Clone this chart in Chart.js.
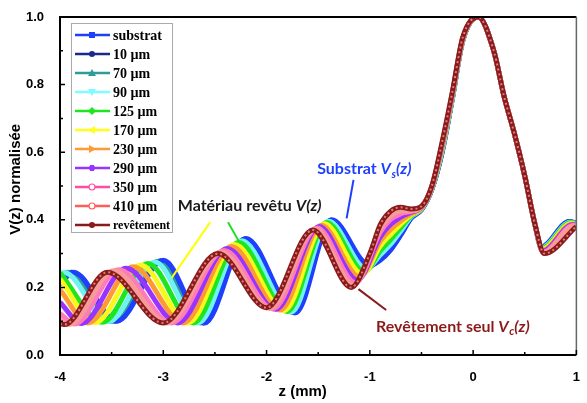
<!DOCTYPE html>
<html>
<head>
<meta charset="utf-8">
<script src="https://cdn.jsdelivr.net/npm/chart.js@4.4.0/dist/chart.umd.min.js"></script>
<style>
  html, body { margin: 0; padding: 0; background: #fff; }
  #wrap { width: 587px; height: 403px; }
</style>
</head>
<body>
<div id="wrap"><canvas id="vzChart" width="587" height="403"></canvas></div>
<script>
// V(z) normalisée en fonction de z (mm) : points [z, V]
const substrat = [[-4,0.21],[-3.87,0.245],[-3.45,0.10],[-3.0,0.28],[-2.6,0.095],[-2.2,0.345],[-1.72,0.125],[-1.37,0.40],[-1.0,0.265],[-0.9,0.28],[-0.8,0.31],[-0.7,0.355],[-0.6,0.405],[-0.5,0.43],[-0.4,0.49],[-0.3,0.60],[-0.2,0.76],[-0.1,0.93],[0.05,1.0],[0.2,0.9],[0.3,0.765],[0.4,0.655],[0.5,0.53],[0.6,0.385],[0.66,0.32],[0.93,0.395],[1.0,0.39]];
const ep10 = [[-4,0.22],[-3.89,0.245],[-3.47,0.10],[-3.02,0.279],[-2.61,0.095],[-2.21,0.344],[-1.73,0.125],[-1.375,0.399],[-1.005,0.263],[-0.9,0.283],[-0.8,0.313],[-0.7,0.357],[-0.6,0.406],[-0.5,0.43],[-0.4,0.49],[-0.3,0.601],[-0.2,0.761],[-0.1,0.93],[0.05,1.0],[0.2,0.9],[0.3,0.765],[0.4,0.655],[0.5,0.53],[0.6,0.385],[0.661,0.319],[0.93,0.394],[1.0,0.39]];
const ep70 = [[-4,0.234],[-3.93,0.245],[-3.50,0.099],[-3.05,0.277],[-2.64,0.095],[-2.23,0.34],[-1.75,0.127],[-1.39,0.397],[-1.02,0.259],[-0.9,0.29],[-0.8,0.322],[-0.7,0.363],[-0.6,0.408],[-0.5,0.431],[-0.4,0.491],[-0.3,0.603],[-0.2,0.762],[-0.1,0.931],[0.05,1.0],[0.2,0.9],[0.3,0.765],[0.4,0.655],[0.5,0.53],[0.6,0.385],[0.662,0.318],[0.935,0.394],[1.0,0.389]];
const ep90 = [[-4,0.24],[-3.96,0.244],[-3.53,0.099],[-3.08,0.275],[-2.66,0.095],[-2.24,0.338],[-1.76,0.127],[-1.40,0.396],[-1.03,0.255],[-0.9,0.296],[-0.8,0.327],[-0.7,0.367],[-0.6,0.409],[-0.5,0.432],[-0.4,0.492],[-0.3,0.605],[-0.2,0.763],[-0.1,0.932],[0.05,1.0],[0.2,0.9],[0.3,0.765],[0.4,0.655],[0.5,0.53],[0.6,0.385],[0.663,0.317],[0.94,0.393],[1.0,0.388]];
const ep125 = [[-4,0.243],[-3.59,0.097],[-3.15,0.271],[-2.71,0.095],[-2.27,0.333],[-1.80,0.129],[-1.42,0.392],[-1.05,0.247],[-0.9,0.308],[-0.8,0.341],[-0.7,0.377],[-0.6,0.412],[-0.5,0.433],[-0.4,0.493],[-0.3,0.608],[-0.2,0.765],[-0.1,0.933],[0.05,1.0],[0.2,0.9],[0.3,0.765],[0.4,0.655],[0.5,0.53],[0.6,0.385],[0.665,0.315],[0.945,0.391],[1.0,0.387]];
const ep170 = [[-4,0.225],[-3.66,0.096],[-3.22,0.266],[-2.76,0.095],[-2.31,0.327],[-1.83,0.131],[-1.44,0.388],[-1.07,0.239],[-0.9,0.322],[-0.8,0.356],[-0.7,0.387],[-0.6,0.415],[-0.5,0.434],[-0.4,0.494],[-0.3,0.612],[-0.2,0.768],[-0.1,0.934],[0.05,1.0],[0.2,0.9],[0.3,0.765],[0.4,0.655],[0.5,0.53],[0.6,0.385],[0.668,0.312],[0.95,0.389],[1.0,0.386]];
const ep230 = [[-4,0.193],[-3.73,0.095],[-3.29,0.261],[-2.81,0.095],[-2.34,0.321],[-1.87,0.133],[-1.47,0.384],[-1.10,0.231],[-0.9,0.336],[-0.8,0.371],[-0.7,0.397],[-0.6,0.418],[-0.5,0.435],[-0.4,0.495],[-0.3,0.616],[-0.2,0.771],[-0.1,0.935],[0.05,1.0],[0.2,0.9],[0.3,0.765],[0.4,0.655],[0.5,0.53],[0.6,0.385],[0.671,0.309],[0.956,0.387],[1.0,0.385]];
const ep290 = [[-4,0.156],[-3.79,0.093],[-3.36,0.257],[-2.86,0.095],[-2.38,0.315],[-1.91,0.135],[-1.49,0.38],[-1.12,0.222],[-0.9,0.349],[-0.8,0.386],[-0.7,0.408],[-0.6,0.422],[-0.5,0.437],[-0.4,0.497],[-0.3,0.62],[-0.2,0.773],[-0.1,0.937],[0.05,1.0],[0.2,0.9],[0.3,0.765],[0.4,0.655],[0.5,0.53],[0.6,0.385],[0.675,0.307],[0.963,0.385],[1.0,0.384]];
const ep350 = [[-4,0.123],[-3.86,0.092],[-3.43,0.252],[-2.92,0.095],[-2.41,0.309],[-1.94,0.137],[-1.51,0.376],[-1.14,0.214],[-0.9,0.363],[-0.8,0.401],[-0.7,0.418],[-0.6,0.425],[-0.5,0.438],[-0.4,0.498],[-0.3,0.624],[-0.2,0.776],[-0.1,0.938],[0.05,1.0],[0.2,0.9],[0.3,0.765],[0.4,0.655],[0.5,0.53],[0.6,0.385],[0.679,0.304],[0.97,0.383],[1.0,0.382]];
const ep410 = [[-4,0.103],[-3.91,0.091],[-3.48,0.249],[-2.96,0.095],[-2.44,0.305],[-1.97,0.138],[-1.53,0.373],[-1.16,0.207],[-0.9,0.373],[-0.8,0.412],[-0.7,0.426],[-0.6,0.427],[-0.5,0.439],[-0.4,0.499],[-0.3,0.627],[-0.2,0.778],[-0.1,0.939],[0.05,1.0],[0.2,0.9],[0.3,0.765],[0.4,0.655],[0.5,0.53],[0.6,0.385],[0.682,0.302],[0.975,0.382],[1.0,0.381]];
const revetement = [[-4,0.092],[-3.96,0.09],[-3.54,0.245],[-3.0,0.095],[-2.47,0.30],[-2.0,0.14],[-1.55,0.37],[-1.18,0.20],[-1.0,0.30],[-0.9,0.385],[-0.8,0.425],[-0.7,0.437],[-0.6,0.432],[-0.5,0.44],[-0.4,0.50],[-0.3,0.63],[-0.2,0.78],[-0.1,0.94],[0.05,1.0],[0.2,0.9],[0.3,0.765],[0.4,0.655],[0.5,0.53],[0.6,0.385],[0.69,0.30],[1.0,0.38]];

const seriesNames = ['substrat', '10 µm', '70 µm', '90 µm', '125 µm', '170 µm', '230 µm', '290 µm', '350 µm', '410 µm', 'revêtement'];
const seriesData = [substrat, ep10, ep70, ep90, ep125, ep170, ep230, ep290, ep350, ep410, revetement];

const xTickValues = [-4, -3, -2, -1, 0, 1];
const xMinorTicks = [-3.5, -2.5, -1.5, -0.5, 0.5];
const yTickValues = [0, 0.2, 0.4, 0.6, 0.8, 1.0];
const yMinorTicks = [0.1, 0.3, 0.5, 0.7, 0.9];

// styles
const lineColors = ['#1f3fff', '#1a2a8c', '#2f9c9c', '#70f2f2', '#1ee61e', '#f8f81a', '#ff9933', '#9933ff', '#ff7ab8', '#f79a9a', '#8b1a1a'];
const legendColors = ['#1f3fff', '#1a2a8c', '#2f9c9c', '#7ffcff', '#1ee61e', '#ffff1a', '#ff9933', '#9933ff', '#ff4da6', '#ff5c5c', '#8b1a1a'];
const markerShapes = ['square', 'circle', 'triUp', 'triDown', 'diamond', 'triLeft', 'triRight', 'hexagon', 'open', 'open', 'star'];
const drawOrder = [11, 13, 12, 10, 9, 8, 7, 6, 5, 4, 2];

// annotations (en coordonnées des données)
const pointers = [
  { color: '#ffff00', from: [-2.545, 0.393], to: [-2.919, 0.228] },
  { color: '#22dd22', from: [-2.373, 0.393], to: [-2.258, 0.331] },
  { color: '#1f3fff', from: [-1.158, 0.518], to: [-1.225, 0.404] },
  { color: '#8b1a1a', from: [-1.11, 0.195], to: [-0.842, 0.133] }
];
const labels = [
  { at: [-2.86, 0.44], color: '#1a1a1a', parts: [['Matériau revêtu ', ''], ['V(z)', 'italic ']] },
  { at: [-1.51, 0.55], color: '#1f3fff', parts: [['Substrat ', ''], ['V', 'italic '], ['s', 'sub'], ['(z)', 'italic ']] },
  { at: [-0.94, 0.083], color: '#8b1a1a', parts: [['Revêtement seul ', ''], ['V', 'italic '], ['c', 'sub'], ['(z)', 'italic ']] }
];

const datasets = seriesData.map((s, i) => ({
  label: seriesNames[i],
  data: s.map(([z, v]) => ({ x: z, y: v })),
  borderColor: lineColors[i],
  borderWidth: 5,
  pointRadius: 0,
  cubicInterpolationMode: 'monotone',
  order: drawOrder[i]
}));
// petits points clairs sur la courbe du revêtement (marqueurs ouverts)
datasets.push({
  label: 'beads',
  data: revetement.map(([z, v]) => ({ x: z, y: v })),
  borderColor: 'rgba(225,140,140,0.9)',
  borderWidth: 2,
  borderDash: [2, 3],
  pointRadius: 0,
  cubicInterpolationMode: 'monotone',
  order: 1
});

function drawMarker(ctx, shape, x, y, color) {
  const r = 3;
  ctx.fillStyle = color;
  ctx.strokeStyle = color;
  ctx.beginPath();
  if (shape === 'square') ctx.rect(x - r, y - r, 2 * r, 2 * r);
  else if (shape === 'circle' || shape === 'star') ctx.arc(x, y, r, 0, Math.PI * 2);
  else if (shape === 'triUp') { ctx.moveTo(x, y - r - 1); ctx.lineTo(x + r + 1, y + r); ctx.lineTo(x - r - 1, y + r); }
  else if (shape === 'triDown') { ctx.moveTo(x, y + r + 1); ctx.lineTo(x + r + 1, y - r); ctx.lineTo(x - r - 1, y - r); }
  else if (shape === 'triLeft') { ctx.moveTo(x - r - 1, y); ctx.lineTo(x + r, y - r - 1); ctx.lineTo(x + r, y + r + 1); }
  else if (shape === 'triRight') { ctx.moveTo(x + r + 1, y); ctx.lineTo(x - r, y - r - 1); ctx.lineTo(x - r, y + r + 1); }
  else if (shape === 'diamond') { ctx.moveTo(x, y - r - 1); ctx.lineTo(x + r + 1, y); ctx.lineTo(x, y + r + 1); ctx.lineTo(x - r - 1, y); }
  else if (shape === 'hexagon') {
    for (let k = 0; k < 6; k++) {
      const a = Math.PI / 3 * k;
      ctx.lineTo(x + (r + 0.5) * Math.cos(a), y + (r + 0.5) * Math.sin(a));
    }
  }
  else if (shape === 'open') ctx.arc(x, y, r, 0, Math.PI * 2);
  ctx.closePath();
  if (shape === 'open') {
    ctx.fillStyle = '#fff';
    ctx.fill();
    ctx.lineWidth = 1.2;
    ctx.stroke();
  } else {
    ctx.fill();
  }
}

const overlay = {
  id: 'overlay',
  afterDatasetsDraw(chart) {
    const { ctx, chartArea: a, scales: { x, y } } = chart;
    ctx.save();

    // traits des annotations
    ctx.lineWidth = 2;
    pointers.forEach(p => {
      ctx.strokeStyle = p.color;
      ctx.beginPath();
      ctx.moveTo(x.getPixelForValue(p.from[0]), y.getPixelForValue(p.from[1]));
      ctx.lineTo(x.getPixelForValue(p.to[0]), y.getPixelForValue(p.to[1]));
      ctx.stroke();
    });

    // textes des annotations
    ctx.textBaseline = 'middle';
    labels.forEach(l => {
      let px = x.getPixelForValue(l.at[0]);
      const py = y.getPixelForValue(l.at[1]);
      ctx.fillStyle = l.color;
      l.parts.forEach(([t, st]) => {
        if (st === 'sub') {
          ctx.font = 'italic bold 11px Lato';
          ctx.fillText(t, px, py + 5);
        } else {
          ctx.font = st + 'bold 16px Lato';
          ctx.fillText(t, px, py);
        }
        px += ctx.measureText(t).width + (st === 'italic ' ? 0.5 : 0);
      });
    });

    // cadre
    ctx.strokeStyle = '#000';
    ctx.lineWidth = 2;
    ctx.beginPath();
    ctx.moveTo(a.right, a.top);
    ctx.lineTo(a.left, a.top);
    ctx.lineTo(a.left, a.bottom);
    ctx.lineTo(a.right, a.bottom);
    ctx.stroke();
    ctx.strokeStyle = '#666';
    ctx.lineWidth = 1.5;
    ctx.beginPath();
    ctx.moveTo(a.right, a.top);
    ctx.lineTo(a.right, a.bottom);
    ctx.stroke();

    // graduations vers l'intérieur
    ctx.strokeStyle = '#000';
    ctx.lineWidth = 1.5;
    ctx.beginPath();
    xTickValues.forEach(v => { const p = x.getPixelForValue(v); ctx.moveTo(p, a.bottom); ctx.lineTo(p, a.bottom - 5); });
    xMinorTicks.forEach(v => { const p = x.getPixelForValue(v); ctx.moveTo(p, a.bottom); ctx.lineTo(p, a.bottom - 3); });
    yTickValues.forEach(v => { const p = y.getPixelForValue(v); ctx.moveTo(a.left, p); ctx.lineTo(a.left + 5, p); });
    yMinorTicks.forEach(v => { const p = y.getPixelForValue(v); ctx.moveTo(a.left, p); ctx.lineTo(a.left + 3, p); });
    ctx.stroke();

    // légende
    const lx = a.left + 11, ly = a.top + 6;
    ctx.fillStyle = '#fff';
    ctx.fillRect(lx, ly, 101, 209);
    ctx.strokeStyle = '#aaa';
    ctx.lineWidth = 1;
    ctx.strokeRect(lx + 0.5, ly + 0.5, 101, 209);
    seriesNames.forEach((name, i) => {
      const yy = ly + 12 + i * 19;
      ctx.strokeStyle = legendColors[i];
      ctx.lineWidth = 2.5;
      ctx.beginPath();
      ctx.moveTo(lx + 4, yy);
      ctx.lineTo(lx + 39, yy);
      ctx.stroke();
      drawMarker(ctx, markerShapes[i], lx + 21, yy, legendColors[i]);
      ctx.fillStyle = '#000';
      ctx.font = (i === 10 ? 'bold 12px' : 'bold 14px') + ' "Liberation Serif"';
      ctx.textBaseline = 'middle';
      ctx.fillText(name, lx + 42, yy + 1);
    });

    // titres des axes
    ctx.fillStyle = '#000';
    ctx.font = 'bold 15px "Liberation Sans"';
    ctx.textAlign = 'center';
    ctx.fillText('z (mm)', x.getPixelForValue(-1.65), a.bottom + 37);
    ctx.translate(16, y.getPixelForValue(0.52));
    ctx.rotate(-Math.PI / 2);
    ctx.fillText('V(z) normalisée', 0, 0);
    ctx.restore();
  }
};

new Chart(document.getElementById('vzChart'), {
  type: 'line',
  data: { datasets },
  options: {
    responsive: false,
    animation: false,
    layout: { padding: { top: 17, right: 4, left: 0, bottom: 0 } },
    plugins: { legend: { display: false }, tooltip: { enabled: false } },
    scales: {
      x: {
        type: 'linear',
        min: -4,
        max: 1,
        afterBuildTicks: s => { s.ticks = xTickValues.map(v => ({ value: v })); },
        afterFit: s => { s.height = 48; },
        grid: { display: false },
        border: { display: false },
        ticks: { color: '#000', padding: 7, font: { family: 'Liberation Sans', weight: 'bold', size: 13 }, callback: v => String(v) }
      },
      y: {
        min: 0,
        max: 1,
        afterBuildTicks: s => { s.ticks = yTickValues.map(v => ({ value: v })); },
        afterFit: s => { s.width = 60; },
        grid: { display: false },
        border: { display: false },
        ticks: { color: '#000', padding: 8, font: { family: 'Liberation Sans', weight: 'bold', size: 13 }, callback: v => Number(v).toFixed(1) }
      }
    }
  },
  plugins: [overlay]
});
</script>
</body>
</html>
